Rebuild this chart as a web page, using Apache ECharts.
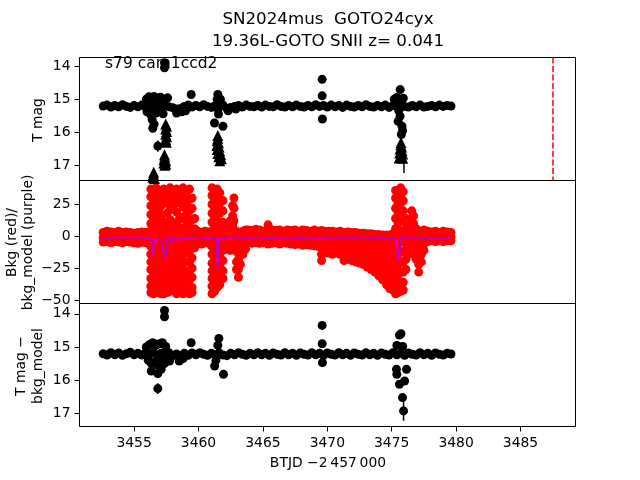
<!DOCTYPE html>
<html><head><meta charset="utf-8">
<script src="https://cdn.jsdelivr.net/npm/echarts@6/dist/echarts.min.js"></script>
<style>html,body{margin:0;padding:0;background:#fff}#c{width:640px;height:480px}</style>
</head><body><div id="c"></div>
<script>
// ---------- data ----------
const xTicks = [3455, 3460, 3465, 3470, 3475, 3480, 3485];
const magTicks = [14, 15, 16, 17];
const bkgTicks = [-50, -25, 0, 25];
const sectorLine = 3487.5;

const obsTimes = [
 3452.6,3452.9,3453.2,3453.5,3453.8,3454.1,3454.4,3454.7,3455.0,3455.3,
 3455.6,3455.9,3456.2,3456.5,3456.8,3457.1,3457.4,3457.7,3458.0,3458.3,
 3458.6,3458.9,3459.2,3459.5,3459.8,3460.1,3460.4,3460.7,3461.0,3461.3,
 3461.6,3461.9,3462.2,3462.5,3462.8,3463.1,3463.4,3463.7,3464.0,3464.3,
 3464.6,3464.9,3465.2,3465.5,3465.8,3466.1,3466.4,3466.7,3467.0,3467.3,
 3467.6,3467.9,3468.2,3468.5,3468.8,3469.1,3469.4,3469.7,3470.0,3470.3,
 3470.6,3470.9,3471.2,3471.5,3471.8,3472.1,3472.4,3472.7,3473.0,3473.3,
 3473.6,3473.9,3474.2,3474.5,3474.8,3475.1,3475.4,3475.7,3476.0,3476.3,
 3476.6,3476.9,3477.2,3477.5,3477.8,3478.1,3478.4,3478.7,3479.0,3479.3,
 3479.6];

// T mag, main band
const tmagBase = [
 15.21,15.18,15.24,15.19,15.23,15.17,15.22,15.25,15.19,15.23,
 15.18,15.24,15.2,15.26,15.17,15.25,15.2,15.23,15.26,15.3,
 15.28,15.22,15.18,15.24,15.19,15.23,15.17,15.22,15.25,15.19,
 15.23,15.18,15.28,15.25,15.22,15.19,15.24,15.18,15.22,15.23,
 15.19,15.24,15.18,15.22,15.23,15.17,15.22,15.24,15.19,15.23,
 15.18,15.22,15.24,15.19,15.23,15.17,15.22,15.19,15.24,15.18,
 15.23,15.19,15.25,15.18,15.22,15.24,15.19,15.23,15.17,15.22,
 15.24,15.19,15.23,15.18,15.25,15.19,15.23,15.17,15.22,15.24,
 15.19,15.23,15.18,15.24,15.22,15.19,15.23,15.18,15.22,15.19,
 15.21];

// T mag - bkg_model, main band
const corrBase = [
 15.2,15.24,15.17,15.23,15.18,15.25,15.2,15.16,15.23,15.19,
 15.24,15.18,15.22,15.16,15.25,15.19,15.23,15.17,15.26,15.21,
 15.27,15.19,15.25,15.18,15.23,15.17,15.22,15.25,15.19,15.23,
 15.18,15.24,15.26,15.19,15.23,15.17,15.22,15.25,15.19,15.23,
 15.17,15.23,15.19,15.25,15.18,15.22,15.24,15.17,15.23,15.19,
 15.25,15.18,15.22,15.24,15.17,15.23,15.19,15.25,15.18,15.22,
 15.24,15.17,15.23,15.19,15.25,15.18,15.22,15.24,15.17,15.23,
 15.19,15.25,15.18,15.22,15.24,15.17,15.23,15.19,15.25,15.18,
 15.22,15.24,15.17,15.23,15.19,15.25,15.18,15.22,15.24,15.19,
 15.21];

// T mag, off-band points [t, mag, err]
const tmagExtra = [
 [3455.95,15.0,0.03],[3456.15,14.93,0.03],[3456.35,15.05,0.03],[3456.55,14.92,0.03],[3456.8,14.97,0.03],
 [3457.05,14.94,0.03],[3457.3,15.0,0.03],[3457.6,14.96,0.03],
 [3456.0,15.38,0.04],[3456.25,15.45,0.04],[3456.45,15.35,0.04],[3456.7,15.42,0.04],[3457.0,15.36,0.04],
 [3457.25,15.44,0.04],[3458.3,15.42,0.04],[3458.7,15.38,0.04],[3459.0,15.35,0.04],
 [3456.4,15.62,0.05],[3456.55,15.76,0.05],[3456.45,15.88,0.06],
 [3456.84,16.42,0.17],
 [3457.36,14.05,0.03],[3457.36,13.9,0.03],
 [3459.43,14.86,0.03],
 [3461.5,14.86,0.03],[3461.45,15.0,0.04],[3461.5,15.3,0.05],[3461.55,15.45,0.05],[3461.24,15.72,0.06],
 [3461.9,15.82,0.07],[3462.3,15.35,0.04],[3462.9,15.3,0.04],[3461.7,15.0,0.03],
 [3469.6,14.4,0.03],[3469.6,14.9,0.03],[3469.62,15.6,0.04],
 [3475.66,14.71,0.03],[3475.4,14.95,0.03],[3475.9,14.97,0.03],[3475.55,15.35,0.04],[3475.65,15.52,0.05],
 [3475.5,15.67,0.05],[3475.8,15.82,0.06],[3475.85,15.95,0.06],[3475.75,16.07,0.07],[3475.2,15.0,0.03]
];

// T mag, faint points drawn as triangles [t, mag]
const tmagLimits = [
 [3457.45,15.75],[3457.52,15.82],[3457.45,15.9],[3457.52,15.98],[3457.45,16.06],[3457.52,16.14],[3457.45,16.22],[3457.5,16.3],
 [3457.36,16.68],[3457.38,16.75],[3457.32,16.83],[3457.45,16.86],[3457.3,16.93],[3457.46,16.96],[3457.38,17.0],
 [3456.52,17.21],[3456.5,17.28],[3456.45,17.36],[3456.58,17.4],[3456.52,17.48],
 [3461.5,16.1],[3461.5,16.18],[3461.45,16.26],[3461.55,16.32],[3461.42,16.4],[3461.6,16.45],
 [3461.45,16.52],[3461.65,16.57],[3461.5,16.64],[3461.72,16.68],[3461.58,16.74],[3461.78,16.8],[3461.65,16.86],
 [3475.72,16.31],[3475.7,16.38],[3475.76,16.45],[3475.65,16.51],[3475.8,16.56],
 [3475.62,16.63],[3475.85,16.66],[3475.7,16.72],[3475.58,16.78],[3475.86,16.79]
];
const tmagLimitErr = [[3475.95,16.95,0.28],[3456.52,17.3,0.15],[3457.4,16.95,0.12],[3461.7,16.8,0.12]];

// T mag - bkg_model, off-band points [t, mag, err]
const corrExtra = [
 [3457.36,13.9,0.03],[3457.36,14.09,0.03],
 [3455.95,15.0,0.03],[3456.2,14.92,0.03],[3456.45,14.87,0.03],[3456.7,14.95,0.03],[3456.95,14.9,0.03],
 [3457.2,14.87,0.03],[3457.45,14.98,0.03],
 [3456.1,15.4,0.04],[3456.35,15.5,0.04],[3456.6,15.45,0.04],[3456.85,15.55,0.04],[3457.1,15.4,0.04],[3457.35,15.5,0.04],
 [3456.33,15.72,0.05],[3456.84,15.8,0.05],[3457.1,15.67,0.05],[3457.75,15.42,0.04],[3458.5,15.42,0.04],[3458.8,15.35,0.04],
 [3456.84,16.25,0.16],
 [3459.43,14.87,0.03],
 [3461.58,14.74,0.03],[3461.5,14.95,0.03],[3461.25,15.57,0.06],[3461.94,15.82,0.07],[3461.35,15.4,0.05],
 [3469.6,14.35,0.03],[3469.6,14.9,0.03],[3469.62,15.47,0.04],
 [3475.6,14.64,0.03],[3475.72,14.6,0.03],[3475.4,14.95,0.03],[3475.85,14.98,0.03],
 [3475.37,15.67,0.05],[3476.15,15.67,0.05],[3475.4,15.82,0.06],[3476.0,16.02,0.08],[3475.6,16.12,0.08],
 [3475.84,16.52,0.1],[3475.92,16.92,0.3]
];

// Bkg (red): each row = [t, values at that time...]
const bkgColumns = [
 [3452.6,3,-1,-4.5],[3452.9,4,0,-4],[3453.2,3.5,-1,-5],[3453.5,3,-0.5,-4],[3453.8,4,-1,-4.5],
 [3454.1,3,0,-5],[3454.4,3.5,-1,-4],[3454.7,3,-0.5,-4.5],[3455.0,2.5,-1,-5],[3455.3,3,-1,-5.5],
 [3455.6,3.5,0,-4.5],[3455.9,3,-1,-5],[3456.1,3.5,-0.5,-5.5],
 [3456.3,37,31,24,17,10,4,-2,-8,-14,-20,-26,-33,-39,-44],
 [3456.5,35,29,22,15,8,2,-4,-10,-16,-22,-28,-35,-41,-45],
 [3456.7,38,32,19,12,5,-1,-7,-13,-19,-26,-32,-38,-44],
 [3456.9,36,27,20,13,6,0,-6,-12,-18,-24,-30,-37,-43],
 [3457.1,33,24,16,9,2,-4,-10,-17,-23,-29,-36,-42,-45],
 [3457.3,37,29,11,4,-2,-8,-14,-20,-27,-33,-39,-45],
 [3457.55,35,26,18,7,1,-5,-11,-17,-24,-31,-38,-44],
 [3457.8,38,30,21,13,5,-3,-9,-16,-22,-29,-36,-43],
 [3458.05,32,24,9,2,-6,-13,-21,-28,-35,-42],
 [3458.3,37,28,19,11,3,-4,-10,-17,-25,-32,-39,-45],
 [3458.55,34,26,15,7,-1,-8,-15,-22,-30,-37,-44],
 [3458.8,38,31,23,14,5,-3,-11,-19,-26,-34,-41,-45],
 [3459.05,35,26,17,8,0,-6,-13,-20,-28,-35,-43],
 [3459.3,37,29,20,11,2,-5,-12,-20,-27,-34,-41,-45],
 [3459.5,30,22,13,5,-2,-9,-17,-25,-32,-40,-44],
 [3459.7,14,6,1,-4,-9],
 [3459.95,4,0,-5],[3460.25,3,-1,-6],[3460.5,4,0,-5],[3460.75,3.5,-0.5,-5.5],
 [3461.05,38,32,25,18,11,4,-2,-8,-14,-21,-27,-33,-39,-45],
 [3461.25,35,28,21,14,7,1,-5,-11,-18,-24,-31,-37,-43],
 [3461.45,37,29,20,12,4,-3,-10,-18,-25,-33,-40],
 [3461.65,34,26,18,9,1,-6,-14,-22,-30,-38],
 [3461.9,28,20,11,4,-3,-11,-19,-27,-33],
 [3462.2,6,0,-6,-10],
 [3462.45,12,6,0,-6,-11],
 [3462.65,24,16,8,2,-4,-10],
 [3462.75,30,22,12],
 [3462.95,4,-4,-12,-20,-26],
 [3463.1,-2,-10,-18,-26,-32],
 [3463.25,2,-6,-14,-22],
 [3463.45,4,-2,-8,-14],
 [3463.65,5,0,-6,-10],
 [3463.85,5,0,-5],[3464.15,4.5,-0.5,-5.5],[3464.45,5.5,0,-5],[3464.75,5,-1,-5.5],[3465.05,4,0,-5],
 [3465.4,9,4,-1,-6],[3465.7,5,0,-5.5],[3466.0,4.5,-0.5,-5],[3466.3,5,0,-6],[3466.6,4,-1,-5],
 [3466.9,5,0,-5.5],[3467.2,4.5,-0.5,-6],[3467.5,5,-1,-6.5],[3467.8,4,0,-6],[3468.1,5,-1,-7],
 [3468.4,4.5,0,-6.5],[3468.7,4,-1,-7],[3469.0,5,-1,-7.5],[3469.3,4,-2,-8],[3469.55,4.5,-2,-8,-14,-19],
 [3469.8,4,-2,-8,-13],
 [3470.1,4,-2,-8,-13],[3470.4,4,-2,-8,-14],[3470.7,3.5,-2,-8,-13],[3471.0,4,-2,-8,-14],
 [3471.3,3,-3,-9,-15,-19],[3471.6,3.5,-2,-8,-14,-18],[3471.9,3,-3,-9,-15,-19],[3472.2,3,-3,-9,-15,-20],
 [3472.5,2.5,-3,-9,-15,-21],[3472.8,2.5,-3.5,-10,-16,-22],[3473.1,2,-4,-10,-16,-22,-24],
 [3473.4,2,-4,-10,-16,-22,-26],[3473.7,1.5,-4,-10,-16,-22,-28],[3474.0,1.5,-4.5,-11,-17,-23,-29,-31],
 [3474.3,1,-5,-11,-17,-23,-29,-34],[3474.6,1,-5,-11,-17,-23,-29,-35,-38],
 [3474.85,1,-5,-11,-17,-23,-29,-35,-41],
 [3475.1,2,-6,-14,-22,-30,-36,-42],
 [3475.3,36,30,22,14,6,-2,-10,-18,-26,-34,-41,-45],
 [3475.5,33,26,18,10,2,-6,-14,-22,-30,-38,-44],
 [3475.7,38,32,26,19,12,4,-4,-12,-20,-28,-36,-43],
 [3475.9,35,28,20,12,4,-4,-12,-20,-28,-36,-42],
 [3476.1,14,6,-2,-10,-18,-26],
 [3476.35,10,4,-2,-8,-14],
 [3476.55,20,14,8,2,-4,-10],
 [3476.7,16,10,4,-2,-8,-14],
 [3476.9,6,0,-6,-12,-18],
 [3477.1,2,-4,-10,-16,-22,-28],
 [3477.3,4,-2,-8,-14,-20],
 [3477.5,5,0,-6,-11],
 [3477.8,4,0,-4],[3478.1,3.5,-0.5,-3.5],[3478.4,4,0,-4],[3478.7,3,-1,-3.5],[3479.0,4,0,-4],
 [3479.3,3.5,0,-3.5],[3479.6,3,-0.5,-3.5]
];

// bkg_model (purple line) [t, value]
const bkgModel = [
 [3452.5,-1],[3453,-1.4],[3453.5,-0.6],[3454,-1.2],[3454.5,-0.8],[3455,-1.3],[3455.5,-0.9],[3456,-1.2],
 [3456.3,-1.5],[3456.45,-16],[3456.6,-2],[3456.75,-4],[3456.9,-1.5],[3457.1,-3],[3457.25,-2],[3457.41,-17.5],
 [3457.55,-2],[3457.7,0.5],[3457.85,-5],[3458.0,-1],[3458.2,-3],[3458.4,-1.5],[3458.6,-2.5],[3458.9,-1],
 [3459.3,-1.2],[3459.8,-0.8],[3460.3,-1.2],[3460.8,-0.9],[3461.2,-1.3],[3461.38,-2],[3461.5,-24.5],
 [3461.62,-2],[3461.8,-1],[3462.3,-1.2],[3462.8,-0.8],[3463.3,-1.1],[3463.8,-0.9],[3464.3,-1.3],[3464.8,-0.8],
 [3465.3,-1.2],[3465.8,-0.9],[3466.3,-1.1],[3466.8,-0.8],[3467.3,-1.2],[3467.8,-0.9],[3468.3,-1.1],[3468.8,-0.8],
 [3469.3,-1.2],[3469.8,-0.9],[3470.3,-1.1],[3470.8,-0.8],[3471.3,-1.2],[3471.8,-0.9],[3472.3,-1.1],[3472.8,-0.8],
 [3473.3,-1.2],[3473.8,-0.9],[3474.3,-1.1],[3474.8,-1.3],[3475.3,-1.5],[3475.45,-3],[3475.55,-20],[3475.68,-4],
 [3475.8,1],[3476.0,-1],[3476.5,-1.2],[3477,-0.8],[3477.5,-1.5],[3478,-1],[3478.5,-1.3],[3479,-0.9],[3479.6,-1.2]
];

// ---------- chart ----------
const X_MIN = 3450.76, X_MAX = 3489.27;
const FONT = 'DejaVu Sans';
const L = 79.5, W = 496, H = 123, TOPS = [57.5, 180.5, 303.5];

const tmagPts = obsTimes.map((t, i) => [t, tmagBase[i]]);
const corrPts = obsTimes.map((t, i) => [t, corrBase[i]]);
const bkgPts = [];
bkgColumns.forEach(r => { for (let i = 1; i < r.length; i++) bkgPts.push([r[0], r[i]]); });

const minus = v => String(v).replace('-', '\u2212');

function xAx(gi, show) {
  return {type: 'value', gridIndex: gi, min: X_MIN, max: X_MAX, position: 'bottom',
    splitLine: {show: false}, axisLine: {show: false, onZero: false},
    axisTick: {show: show, customValues: xTicks, length: 5, lineStyle: {color: '#000', width: 1}},
    axisLabel: {show: show, customValues: xTicks, margin: 10, color: '#000', fontSize: 13.9, fontFamily: FONT,
      formatter: v => String(v)}};
}
function yAx(gi, min, max, inv, ticks) {
  return {type: 'value', gridIndex: gi, min: min, max: max, inverse: inv, position: 'left',
    splitLine: {show: false}, axisLine: {show: false, onZero: false},
    axisTick: {show: true, customValues: ticks, length: 5, lineStyle: {color: '#000', width: 1}},
    axisLabel: {show: true, customValues: ticks, margin: 9, color: '#000', fontSize: 13.9, fontFamily: FONT,
      formatter: v => minus(v)}};
}
function errSeries(data, idx) {
  return {type: 'custom', xAxisIndex: idx, yAxisIndex: idx, data: data, silent: true, z: 2,
    encode: {x: 0, y: 1}, clip: true,
    renderItem: function (params, api) {
      const t = api.value(0), m = api.value(1), e = api.value(2);
      const p1 = api.coord([t, m - e]), p2 = api.coord([t, m + e]);
      return {type: 'line', shape: {x1: p1[0], y1: p1[1], x2: p2[0], y2: p2[1]},
        style: {stroke: '#000', lineWidth: 1.5}};
    }};
}
function scat(data, idx, color, symbol, size) {
  return {type: 'scatter', xAxisIndex: idx, yAxisIndex: idx, data: data, symbol: symbol, symbolSize: size,
    itemStyle: {color: color, opacity: 1}, silent: true, z: 3, clip: true, emphasis: {disabled: true}};
}
function txt(s, x, y, size, rot, align) {
  return {type: 'text', x: x, y: y, rotation: rot || 0, z: 100, silent: true,
    style: {text: s, fill: '#000', font: size + 'px "' + FONT + '"', align: align || 'center', verticalAlign: 'middle'}};
}

const chart = echarts.init(document.getElementById('c'), null, {renderer: 'canvas'});
const baseTmag = scat(tmagPts, 0, '#000', 'circle', 9);
baseTmag.markLine = {symbol: ['none', 'none'], silent: true, animation: false, label: {show: false},
  lineStyle: {color: '#ff0000', type: [6, 2.5], width: 1.5}, data: [{xAxis: sectorLine}]};

chart.setOption({
  animation: false,
  backgroundColor: '#fff',
  grid: TOPS.map(t => ({left: L, top: t, width: W, height: H, show: true, borderColor: '#000', borderWidth: 1,
    backgroundColor: 'transparent', containLabel: false, outerBoundsMode: 'none'})),
  xAxis: [xAx(0, false), xAx(1, false), xAx(2, true)],
  yAxis: [yAx(0, 13.74, 17.46, true, magTicks), yAx(1, -52.6, 43.75, false, bkgTicks), yAx(2, 13.69, 17.39, true, magTicks)],
  series: [
    scat(bkgPts, 1, '#ff0000', 'circle', 9),
    {type: 'line', xAxisIndex: 1, yAxisIndex: 1, data: bkgModel, showSymbol: false, silent: true, z: 4,
      lineStyle: {color: '#bf00bf', width: 2}, itemStyle: {color: '#bf00bf'}, emphasis: {disabled: true}},
    errSeries(tmagExtra.concat(tmagLimitErr), 0),
    baseTmag,
    scat(tmagExtra, 0, '#000', 'circle', 9),
    scat(tmagLimits, 0, '#000', 'triangle', 11),
    errSeries(corrExtra, 2),
    scat(corrPts, 2, '#000', 'circle', 9),
    scat(corrExtra, 2, '#000', 'circle', 9)
  ],
  graphic: [
    txt('SN2024mus  GOTO24cyx', 328, 20, 16.7),
    txt('19.36L-GOTO SNII z= 0.041', 328, 41.5, 16.7),
    txt('s79 cam1ccd2', 105, 64, 15.5, 0, 'left'),
    txt('T mag', 38.5, 120, 13.9, Math.PI / 2),
    txt('Bkg (red)/', 12.5, 242.5, 13.9, Math.PI / 2),
    txt('bkg_model (purple)', 28.5, 242.5, 13.9, Math.PI / 2),
    txt('T mag \u2212', 21, 366, 13.9, Math.PI / 2),
    txt('bkg_model', 38.5, 366, 13.9, Math.PI / 2),
    txt('BTJD \u22122\u2009457\u2009000', 328, 463, 13.9)
  ]
});
</script></body></html>
